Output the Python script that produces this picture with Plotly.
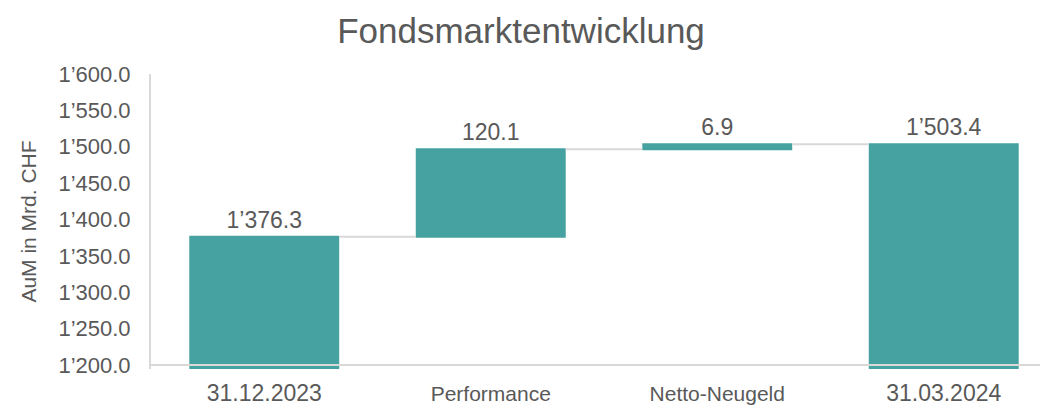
import plotly.graph_objects as go

categories = ["31.12.2023", "Performance", "Netto-Neugeld", "31.03.2024"]
values = [1376.3, 120.1, 6.9, 1503.4]
measures = ["absolute", "relative", "relative", "total"]
labels = ["1’376.3", "120.1", "6.9", "1’503.4"]
tick_vals = [1200, 1250, 1300, 1350, 1400, 1450, 1500, 1550, 1600]
tick_text = ["1’200.0", "1’250.0", "1’300.0", "1’350.0", "1’400.0", "1’450.0", "1’500.0", "1’550.0", "1’600.0"]

teal = "#46A2A0"
grey_text = "#595959"
font_family = "Liberation Sans, Arial, sans-serif"

cat_text = [
    "<span style='font-size:23px'>31.12.2023</span>",
    "<span style='font-size:21px'>Performance</span>",
    "<span style='font-size:21px'>Netto-Neugeld</span>",
    "<span style='font-size:23px'>31.03.2024</span>",
]

fig = go.Figure(go.Waterfall(
    x=categories,
    y=values,
    measure=measures,
    text=labels,
    textposition="outside",
    textfont=dict(size=23, color=grey_text, family=font_family),
    width=0.662,
    increasing=dict(marker=dict(color=teal)),
    decreasing=dict(marker=dict(color=teal)),
    totals=dict(marker=dict(color=teal)),
    connector=dict(mode="between", line=dict(color="#D9D9D9", width=2)),
    cliponaxis=True,
    hoverinfo="skip",
))

fig.update_layout(
    width=1042, height=407,
    margin=dict(l=151, r=2, t=74, b=38),
    paper_bgcolor="white", plot_bgcolor="white",
    showlegend=False,
    title=dict(text="Fondsmarktentwicklung", x=0.5, xanchor="center", y=0.925, yanchor="middle",
               font=dict(size=35, color=grey_text, family=font_family)),
    xaxis=dict(type="category", range=[-0.5, 3.425], showline=False, showgrid=False,
               tickvals=categories, ticktext=cat_text, automargin=False,
               ticks="", ticklabelstandoff=9,
               tickfont=dict(size=22, color=grey_text, family=font_family)),
    yaxis=dict(range=[1194.5, 1600], tickvals=tick_vals, ticktext=tick_text,
               showgrid=False, showline=True, linecolor="#D9D9D9", linewidth=2,
               ticks="", ticklen=0, zeroline=False, ticklabelstandoff=14, automargin=False,
               tickfont=dict(size=22, color=grey_text, family=font_family),
               title=dict(text="AuM in Mrd. CHF", standoff=16,
                          font=dict(size=21, color=grey_text, family=font_family))),
    shapes=[dict(type="line", xref="paper", x0=0, x1=1, yref="y", y0=1200, y1=1200,
                 line=dict(color="#D9D9D9", width=2), layer="above")],
)

fig.write_html("out.html")
